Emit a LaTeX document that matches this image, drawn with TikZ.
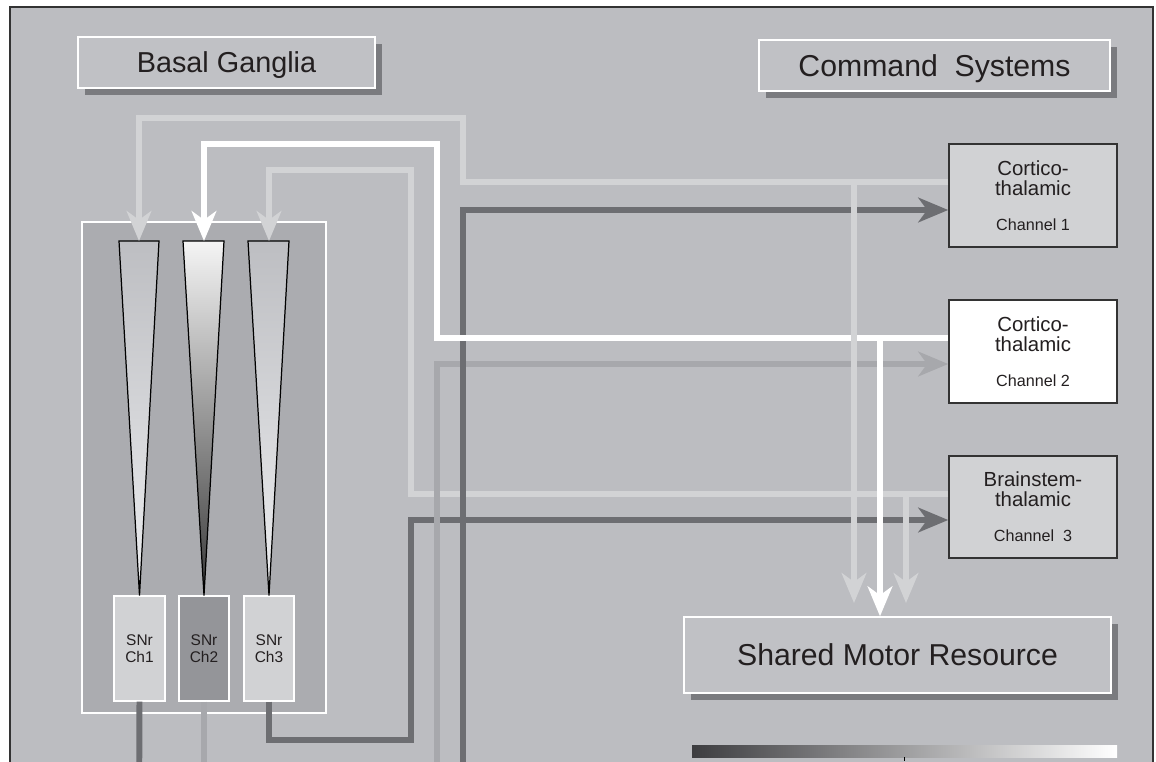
\documentclass[tikz,border=0pt]{standalone}
\usepackage{fontspec}
\setmainfont{Liberation Sans}
\usetikzlibrary{arrows.meta,calc,shadows}
\definecolor{bgc}{HTML}{BCBDC1}
\definecolor{boxc}{HTML}{C0C1C5}
\definecolor{shadowc}{HTML}{7A7B7F}
\definecolor{chfill}{HTML}{D1D2D4}
\definecolor{innerc}{HTML}{ABACB0}
\definecolor{snrl}{HTML}{D1D2D4}
\definecolor{snrd}{HTML}{949599}
\definecolor{lightc}{HTML}{D2D3D5}
\definecolor{medc}{HTML}{A7A8AC}
\definecolor{darkc}{HTML}{6D6E72}
\definecolor{txt}{HTML}{231F20}
\definecolor{framec}{HTML}{333333}
\definecolor{tritop}{HTML}{BDBEC2}
\definecolor{tribot}{HTML}{ECEDEF}
\definecolor{barleft}{HTML}{3D3D40}
\definecolor{barmid}{HTML}{BBBCBF}
\def\pxu{0.02cm}
\tikzset{
  titlebox/.style={draw=white, line width=0.8pt, fill=boxc, inner sep=0pt, text=txt, text depth=0pt,
    drop shadow={shadow xshift=4pt, shadow yshift=-4pt, fill=shadowc, opacity=1}},
  chbox/.style={draw=framec, line width=0.9pt, fill=chfill, inner sep=0pt, align=center, text=txt,
    minimum width=168*\pxu, minimum height=103*\pxu, font=\fontsize{11.6}{11.3}\selectfont},
  snrbox/.style={draw=white, line width=0.6pt, fill=snrl, inner sep=0pt, align=center, text=txt,
    minimum width=51*\pxu, minimum height=105*\pxu, font=\fontsize{8.8}{9.6}\selectfont},
  conn/.style={line width=3.4pt},
  lgt/.style={conn, draw=lightc},
  wht/.style={conn, draw=white},
  drk/.style={conn, draw=darkc},
  mdm/.style={conn, draw=medc},
  tip/.style={-{Stealth[length=17pt,width=14pt,inset=5pt]}},
  tri/.style={draw=black, line width=0.7pt, line join=miter}
}
\begin{document}
\begin{tikzpicture}[x=0.02cm,y=-0.02cm]
\useasboundingbox (0,0) rectangle (1156,761);
\clip (0,0) rectangle (1156,761);
\fill[white] (0,0) rectangle (1156,761);
\fill[bgc] (10,7) rectangle (1153,780);
\draw[framec, line width=0.8pt] (10,780) -- (10,7) -- (1153,7) -- (1153,780);

% title boxes
\node[titlebox, minimum width=297*\pxu, minimum height=51*\pxu, font=\fontsize{16.4}{18}\selectfont] (bgt) at (226.5,62.5) {Basal Ganglia};
\node[titlebox, minimum width=351*\pxu, minimum height=51*\pxu, font=\fontsize{17.2}{18}\selectfont] (cst) at (934.5,65.5) {Command\ \ Systems};
\node[titlebox, minimum width=427*\pxu, minimum height=76*\pxu, font=\fontsize{17.2}{18}\selectfont] (sm) at (897.5,655) {Shared Motor Resource};

% channel boxes
\node[chbox] (c1) at (1033,195.5) {Cortico-\\thalamic\\[8.5pt]{\fontsize{9.2}{11.3}\selectfont Channel 1}};
\node[chbox, fill=white] (c2) at (1033,351.5) {Cortico-\\thalamic\\[8.5pt]{\fontsize{9.2}{11.3}\selectfont Channel 2}};
\node[chbox, minimum height=102*\pxu] (c3) at (1033,507) {Brainstem-\\thalamic\\[8.5pt]{\fontsize{9.2}{11.3}\selectfont Channel\ \ 3}};

% basal ganglia inner box
\node[draw=white, line width=0.6pt, fill=innerc, minimum width=244*\pxu, minimum height=491*\pxu, inner sep=0pt] (bgbox) at (204,467.5) {};

% SNr boxes
\node[snrbox] (s1) at (139.5,648.5) {SNr\\Ch1};
\node[snrbox, fill=snrd, minimum width=50*\pxu] (s2) at (204,648.5) {SNr\\Ch2};
\node[snrbox, minimum width=50*\pxu] (s3) at (269,648.5) {SNr\\Ch3};

% triangles
\coordinate (t1) at (139,241);
\coordinate (t2) at (204,241);
\coordinate (t3) at (269,241);
\shade[top color=tritop, bottom color=tribot] (119,241) -- (159,241) -- (s1.north) -- cycle;
\draw[tri] (119,241) -- (159,241) -- (s1.north) -- cycle;
\shade[top color=white!96!black, bottom color=black!78] (183,241) -- (224,241) -- (s2.north) -- cycle;
\draw[tri] (183,241) -- (224,241) -- (s2.north) -- cycle;
\shade[top color=tritop, bottom color=tribot] (248,241) -- (289,241) -- (s3.north) -- cycle;
\draw[tri] (248,241) -- (289,241) -- (s3.north) -- cycle;

% connectors
\draw[lgt, tip] (c1.west |- 0,182) -| (463,118) -| (t1);
\draw[lgt, tip] (c3.west |- 0,494) -| (411,170) -| (t3);
\draw[drk, tip] (s3.south) |- (411,740) |- (c3.west |- 0,520);
\draw[mdm, tip] (s2.south) -- (204,790) -| (437,364) -- (c2.west |- 0,364);
\draw[drk, tip] (s1.south) -- (139,820) -| (463,210) -- (c1.west |- 0,210);
\draw[wht, tip] (c2.west |- 0,338) -| (437,144) -| (t2);
\draw[wht, tip] (880,336) -- (880,0 |- sm.north);
\coordinate (m1) at (854,603);
\coordinate (m3) at (906,603);
\draw[lgt, tip] (854,180) -- (m1);
\draw[lgt, tip] (906,492) -- (m3);

% gradient bar
\shade[left color=barleft, middle color=barmid, right color=white] (692,745) rectangle (1117,757);
\draw[black, line width=0.5pt] (904,757) -- (904,761);
\end{tikzpicture}
\end{document}
